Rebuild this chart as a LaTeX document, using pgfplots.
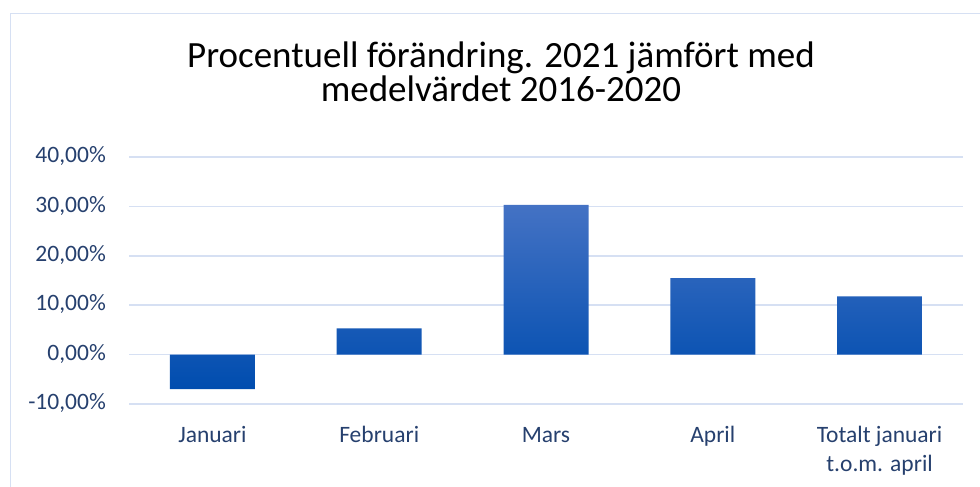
\documentclass[border=0pt]{standalone}
\usepackage{pgfplots}
\pgfplotsset{compat=1.18}
\usepackage{fontspec}
\setmainfont{Carlito}
\definecolor{tickc}{RGB}{38,64,110}
\definecolor{gridc}{RGB}{214,224,243}
\definecolor{barTop}{RGB}{68,114,196}
\definecolor{barMid}{RGB}{0,90,198}
\definecolor{barBot}{RGB}{0,77,175}
\begin{document}
\begin{tikzpicture}[x=1bp,y=1bp]
\useasboundingbox (0,0) rectangle (980,487);
\draw[gridc, line width=1.5bp] (10.5,0) -- (10.5,473.5) -- (980,473.5);
\node[anchor=base, inner sep=0pt, font=\fontsize{37bp}{44bp}\selectfont] at (501,419) {Procentuell förändring. 2021 jämfört med};
\node[anchor=base, inner sep=0pt, font=\fontsize{37bp}{44bp}\selectfont] at (501,385) {medelvärdet 2016-2020};
\begin{axis}[
  at={(129bp,83bp)}, anchor=south west,
  scale only axis, width=834bp, height=247bp,
  xmin=-0.5, xmax=4.5, ymin=-10, ymax=40,
  ytick={-10,0,10,20,30,40},
  yticklabels={{-10,00\%},{0,00\%},{10,00\%},{20,00\%},{30,00\%},{40,00\%}},
  xtick={0,1,2,3,4},
  xticklabels={Januari,Februari,Mars,April,{Totalt januari\\t.o.m. april}},
  axis line style={draw=none},
  major tick length=0pt,
  ymajorgrids,
  grid style={gridc, line width=1.7bp},
  typeset ticklabels with strut,
  tick label style={font=\fontsize{23.5bp}{29bp}\selectfont, text=tickc, inner sep=0pt},
  xticklabel style={align=center, anchor=north, yshift=-18bp},
  yticklabel style={anchor=east, xshift=-23bp},
  clip=false,
]
\addplot[ybar, bar width=85bp, draw=none, top color=barTop, middle color=barMid, bottom color=barBot]
  coordinates {(0,-7.0) (1,5.33) (2,30.3) (3,15.5) (4,11.8)};
\end{axis}
\end{tikzpicture}
\end{document}
